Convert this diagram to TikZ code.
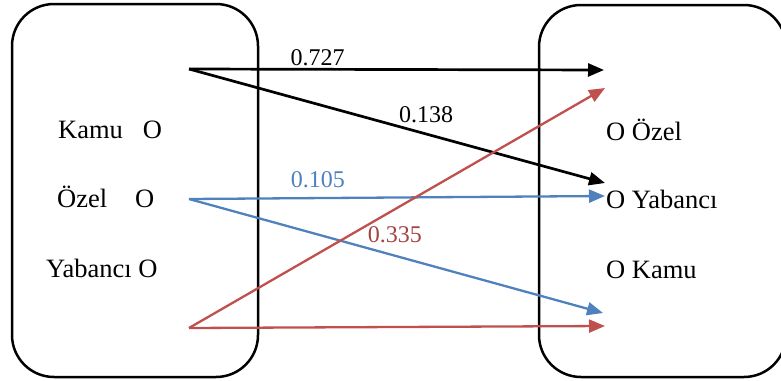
\documentclass[tikz,border=0pt]{standalone}
\usepackage{fontspec}
\setmainfont{Liberation Serif}
\usetikzlibrary{arrows.meta}
\definecolor{flowblue}{RGB}{79,129,189}
\definecolor{flowred}{RGB}{192,80,77}
\tikzset{
  panel/.style={draw, line width=2.5pt, rounded corners=42pt},
  sectxt/.style={anchor=base west, inner sep=0pt, font=\fontsize{26.5}{30}\selectfont},
  coef/.style={anchor=base, inner sep=0pt, font=\fontsize{24}{28}\selectfont},
  flow/.style={-{Triangle[length=16pt,width=13pt]}, line width=2.3pt},
}
\begin{document}
\begin{tikzpicture}[x=1pt,y=-1pt]
\useasboundingbox (0,0) rectangle (781,380);
\draw[panel] (12,4) rectangle (258,377);
\draw[panel] (539,5) rectangle (786,377);

\node[sectxt] (kamuL) at (58,138) {Kamu\hspace{20pt}O};
\node[sectxt] (ozelL) at (57,207) {Özel\hspace{28pt}O};
\node[sectxt] (yabL) at (46,277) {Yabancı O};
\node[sectxt] (ozelR) at (606,140) {O Özel};
\node[sectxt] (yabR) at (606,208) {O Yabancı};
\node[sectxt] (kamuR) at (606,278) {O Kamu};

\coordinate (kamuS) at (189,69);
\coordinate (ozelS) at (189,199);
\coordinate (yabS) at (189,328);
\coordinate (t1) at (604,70);
\coordinate (t2) at (605,88);
\coordinate (t3) at (605,183);
\coordinate (t4) at (605,196);
\coordinate (t5) at (603,313);
\coordinate (t6) at (605,326);

\draw[flow, line width=2.7pt] (kamuS) -- node[coef, pos=.31, yshift=4pt] (k1) {0.727} (t1);
\draw[flow, line width=2.7pt] (kamuS) -- node[coef, pos=.57, yshift=11pt] (k2) {0.138} (t3);
\draw[flow, flowblue] (ozelS) -- node[coef, pos=.31, yshift=11pt] (o1) {0.105} (t4);
\draw[flow, flowblue] (ozelS) -- (t5);
\draw[flow, flowred] (yabS) -- node[coef, pos=.495, yshift=-33pt, text=flowred!85!black] (y1) {0.335} (t2);
\draw[flow, flowred] (yabS) -- (t6);
\end{tikzpicture}
\end{document}
